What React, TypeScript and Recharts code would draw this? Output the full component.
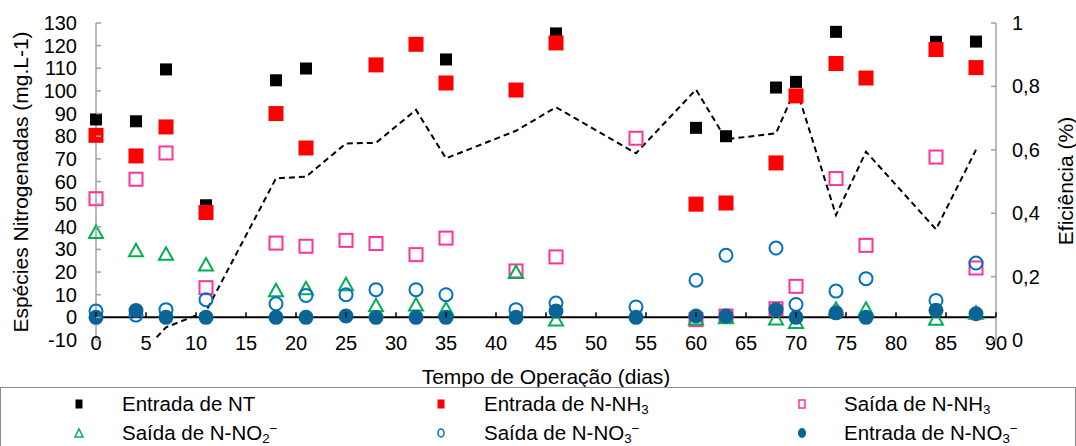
import { ComposedChart, Scatter, Line, XAxis, YAxis, ReferenceLine } from 'recharts'

// dias de operação com coleta
const DAYS = [0, 4, 7, 11, 18, 21, 25, 28, 32, 35, 42, 46, 54, 60, 63, 68, 70, 74, 77, 84, 88]

// mg/L (null = sem ponto)
const NT_IN = [87.4, 86.6, 109.5, 49.5, 104.7, 109.9, null, null, null, 113.9, null, 125.4, null, 83.7, 80, 101.5, 104, 126.1, null, 121.7, 121.8]
const NH3_IN = [80.4, 71.3, 84.1, 46.3, 90, 74.8, null, 111.5, 120.6, 103.5, 100.4, 121.2, null, 50, 50.5, 68.2, 97.8, 112.1, 105.7, 118.3, 110.3]
const NH3_OUT = [52.4, 61, 72.6, 13.1, 32.8, 31.4, 34, 32.6, 27.7, 35, 20.5, 26.7, 79.1, -1, 0.6, 3.8, 13.7, 61.3, 31.8, 70.8, 21.8]
const NO2_OUT = [37.7, 29.6, 28.1, 23.3, 12, 12.8, 14.6, 5.3, 5.7, 3.8, 20, -1, null, -0.5, 0, -0.5, -2, 3.8, 3.8, -0.6, 2]
const NO3_OUT = [2.8, 1, 3.4, 7.8, 6, 9.7, 10, 12.2, 12.2, 10, 3.4, 6.3, 4.6, 16.4, 27.4, 30.6, 5.7, 11.6, 17.1, 7.5, 24]
const NO3_IN = [0, 3, 0, 0, 0, 0, 0.6, 0, 0, 0, 0, 2.8, 0, 0.6, 0.6, 3.4, 0, 2, 0, 3.1, 1.6]

// eficiência (fração, eixo direito)
const EFFICIENCY = [null, -0.06, 0.04, 0.09, 0.51, 0.515, 0.62, 0.622, 0.726, 0.573, 0.66, 0.734, 0.589, 0.79, 0.633, 0.652, 0.797, 0.394, 0.594, 0.349, 0.6]

const X_TICKS = [0, 5, 10, 15, 20, 25, 30, 35, 40, 45, 50, 55, 60, 65, 70, 75, 80, 85, 90]
const LEFT_TICKS = [-10, 0, 10, 20, 30, 40, 50, 60, 70, 80, 90, 100, 110, 120, 130]
const RIGHT_TICKS = [0, 0.2, 0.4, 0.6, 0.8, 1]

const W = 1076
const H = 446
const TOP = 23
const LEFT_W = 96
const RIGHT_W = 80
const X_H = 106
const PLOT_H = H - TOP - X_H
const ZERO_OFF = (PLOT_H * 10) / 140

const FONT = '"Liberation Sans", Arial, sans-serif'
const AXIS_GRAY = '#a0a0a0'

const PINK = '#ff3399'
const GREEN = '#00b050'
const BLUE = '#0070c0'
const DARK_BLUE = '#0b6496'

const pts = (arr: (number | null)[]) =>
  DAYS.map((day, i) => ({ day, v: arr[i] })).filter(p => p.v !== null)

const lineData = DAYS.map((day, i) => ({ day, eff: EFFICIENCY[i] }))

const square = (size: number, fill: string, stroke = 'none') => (p: any) => (
  <rect
    x={p.cx - size / 2}
    y={p.cy - size / 2}
    width={size}
    height={size}
    fill={fill}
    stroke={stroke}
    strokeWidth={stroke === 'none' ? 0 : 2}
  />
)

const triangle = (p: any) => (
  <polygon
    points={`${p.cx - 7},${p.cy + 6} ${p.cx + 7},${p.cy + 6} ${p.cx},${p.cy - 6.5}`}
    fill="none"
    stroke={GREEN}
    strokeWidth={2}
  />
)

const circle = (r: number, fill: string, stroke = 'none') => (p: any) => (
  <circle cx={p.cx} cy={p.cy} r={r} fill={fill} stroke={stroke} strokeWidth={stroke === 'none' ? 0 : 2} />
)

function XTick({ x, y, payload }: any) {
  return (
    <g>
      <line x1={x} x2={x} y1={y - ZERO_OFF} y2={y - ZERO_OFF - 5} stroke="#000" strokeWidth={1.5} />
      <text x={x} y={y + 10} textAnchor="middle" fontSize={20} fontFamily={FONT} fill="#000">
        {payload.value}
      </text>
    </g>
  )
}

function LeftTick({ x, y, payload }: any) {
  return (
    <g>
      <line x1={x} x2={x + 5} y1={y} y2={y} stroke={AXIS_GRAY} strokeWidth={1.5} />
      <text x={x - 19} y={y + 7} textAnchor="end" fontSize={20} fontFamily={FONT} fill="#000">
        {payload.value}
      </text>
    </g>
  )
}

function RightTick({ x, y, payload }: any) {
  return (
    <g>
      <line x1={x - 5} x2={x} y1={y} y2={y} stroke={AXIS_GRAY} strokeWidth={1.5} />
      <text x={x + 16} y={y + 7} textAnchor="start" fontSize={20} fontFamily={FONT} fill="#000">
        {String(payload.value).replace('.', ',')}
      </text>
    </g>
  )
}

function Marker({ kind }: { kind: string }) {
  return (
    <svg width={12} height={12} style={{ position: 'absolute', left: -6, top: -6 }}>
      {kind === 'nt' && <rect x={2.5} y={1.5} width={7} height={9} fill="#000" />}
      {kind === 'nh3in' && <rect x={2.5} y={1.5} width={7} height={9} fill="#ff0000" />}
      {kind === 'nh3out' && <rect x={3} y={2} width={6} height={8} fill="none" stroke={PINK} strokeWidth={1.5} />}
      {kind === 'no2' && <polygon points="2,10 10,10 6,2" fill="none" stroke={GREEN} strokeWidth={1.5} />}
      {kind === 'no3out' && <ellipse cx={6} cy={6} rx={3} ry={4} fill="none" stroke={BLUE} strokeWidth={1.5} />}
      {kind === 'no3in' && <ellipse cx={6} cy={6} rx={4} ry={5} fill={DARK_BLUE} />}
    </svg>
  )
}

const sub = { fontSize: '0.65em', position: 'relative' as const, top: '0.25em' }
const sup = { fontSize: '0.65em', position: 'relative' as const, top: '-0.5em' }

const LEGEND = [
  { kind: 'nt', mx: 79, tx: 122, y: 404, label: <>Entrada de NT</> },
  { kind: 'nh3in', mx: 441, tx: 484, y: 404, label: <>Entrada de N-NH<span style={sub}>3</span></> },
  { kind: 'nh3out', mx: 802, tx: 844, y: 404, label: <>Saída de N-NH<span style={sub}>3</span></> },
  { kind: 'no2', mx: 79, tx: 122, y: 433, label: <>Saída de N-NO<span style={sub}>2</span><span style={sup}>−</span></> },
  { kind: 'no3out', mx: 441, tx: 484, y: 433, label: <>Saída de N-NO<span style={sub}>3</span><span style={sup}>−</span></> },
  { kind: 'no3in', mx: 802, tx: 844, y: 433, label: <>Entrada de N-NO<span style={sub}>3</span><span style={sup}>−</span></> },
]

export default function App() {
  return (
    <div style={{ position: 'relative', width: W, height: H, overflow: 'hidden', fontFamily: FONT }}>
      <style>{'body{margin:0}'}</style>
      <ComposedChart width={W} height={H} data={lineData} margin={{ top: TOP, right: 0, bottom: 0, left: 0 }}>
        <XAxis
          type="number"
          dataKey="day"
          domain={[0, 90]}
          ticks={X_TICKS}
          interval={0}
          height={X_H}
          axisLine={false}
          tickLine={false}
          tickSize={0}
          tickMargin={0}
          tick={<XTick />}
        />
        <YAxis
          yAxisId="left"
          domain={[-10, 130]}
          ticks={LEFT_TICKS}
          interval={0}
          width={LEFT_W}
          axisLine={{ stroke: AXIS_GRAY, strokeWidth: 1.5 }}
          tickLine={false}
          tickSize={0}
          tickMargin={0}
          tick={<LeftTick />}
        />
        <YAxis
          yAxisId="right"
          orientation="right"
          domain={[0, 1]}
          allowDataOverflow
          ticks={RIGHT_TICKS}
          interval={0}
          width={RIGHT_W}
          axisLine={{ stroke: AXIS_GRAY, strokeWidth: 1.5 }}
          tickLine={false}
          tickSize={0}
          tickMargin={0}
          tick={<RightTick />}
        />
        <ReferenceLine yAxisId="left" y={0} stroke="#000" strokeWidth={2} />
        <Scatter yAxisId="left" data={pts(NT_IN)} dataKey="v" shape={square(12, '#000')} isAnimationActive={false} />
        <Scatter yAxisId="left" data={pts(NH3_IN)} dataKey="v" shape={square(15, '#ff0000')} isAnimationActive={false} />
        <Scatter yAxisId="left" data={pts(NH3_OUT)} dataKey="v" shape={square(13, 'none', PINK)} isAnimationActive={false} />
        <Scatter yAxisId="left" data={pts(NO2_OUT)} dataKey="v" shape={triangle} isAnimationActive={false} />
        <Scatter yAxisId="left" data={pts(NO3_OUT)} dataKey="v" shape={circle(6.5, 'none', BLUE)} isAnimationActive={false} />
        <Scatter yAxisId="left" data={pts(NO3_IN)} dataKey="v" shape={circle(7.5, DARK_BLUE)} isAnimationActive={false} />
        <Line
          yAxisId="right"
          type="linear"
          dataKey="eff"
          stroke="#000"
          strokeWidth={2}
          strokeDasharray="6 4"
          dot={false}
          isAnimationActive={false}
        />
      </ComposedChart>

      <svg width={W} height={H} style={{ position: 'absolute', left: 0, top: 0, pointerEvents: 'none' }}>
        <text x={546} y={384} textAnchor="middle" fontSize={21} fontFamily={FONT} fill="#000">
          Tempo de Operação (dias)
        </text>
        <text
          transform="translate(28,182) rotate(-90)"
          textAnchor="middle"
          fontSize={21}
          fontFamily={FONT}
          fill="#000"
        >
          Espécies Nitrogenadas (mg.L-1)
        </text>
        <text
          transform="translate(1073,181) rotate(-90)"
          textAnchor="middle"
          fontSize={21}
          fontFamily={FONT}
          fill="#000"
        >
          Eficiência (%)
        </text>
      </svg>

      <div
        style={{
          position: 'absolute',
          left: 0,
          top: 387,
          width: W,
          height: 80,
          boxSizing: 'border-box',
          border: '1.5px solid #8c8c8c',
        }}
      />
      {LEGEND.map(item => (
        <div key={item.kind}>
          <div style={{ position: 'absolute', left: item.mx, top: item.y }}>
            <Marker kind={item.kind} />
          </div>
          <div
            style={{
              position: 'absolute',
              left: item.tx,
              top: item.y - 10,
              fontSize: 20.5,
              lineHeight: '20px',
              whiteSpace: 'nowrap',
              color: '#000',
            }}
          >
            {item.label}
          </div>
        </div>
      ))}
    </div>
  )
}
